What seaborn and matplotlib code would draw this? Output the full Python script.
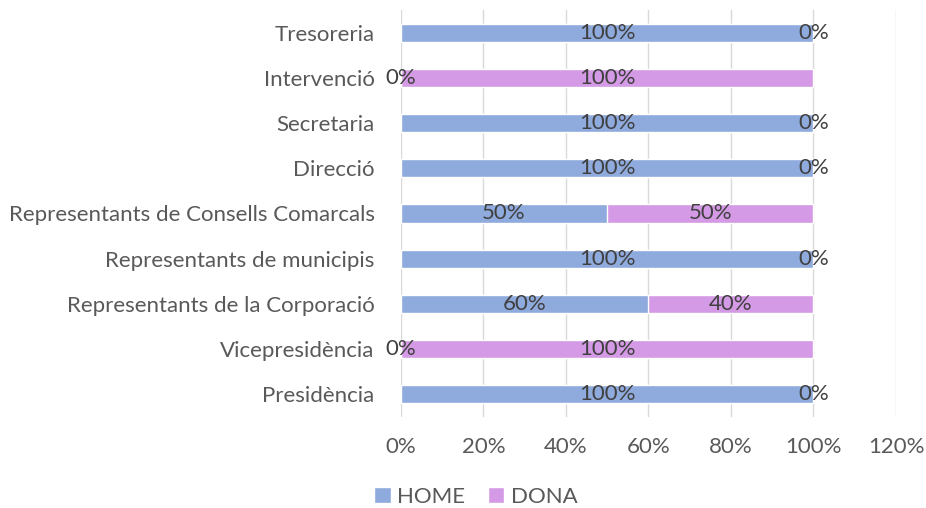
import matplotlib.pyplot as plt
import seaborn as sns
import numpy as np
import pandas as pd

sns.set_style("white")
plt.rcParams['font.family'] = ['Lato', 'DejaVu Sans']

categories = ['Tresoreria', 'Intervenció', 'Secretaria', 'Direcció',
              'Representants de Consells Comarcals', 'Representants de municipis',
              'Representants de la Corporació', 'Vicepresidència', 'Presidència']
home = [100, 0, 100, 100, 50, 100, 60, 0, 100]
dona = [0, 100, 0, 0, 50, 0, 40, 100, 0]

c_home = '#8FAADC'
c_dona = '#D59AE5'
grey = '#595959'
fs = 16

df = pd.DataFrame({'cat': categories, 'HOME': home, 'DONA': dona})
df['total'] = df['HOME'] + df['DONA']

fig = plt.figure(figsize=(9.26, 5.08), dpi=100)
ax = fig.add_axes([0.433, 0.18, 0.5346, 0.7995])

# stacked: total in DONA colour, HOME on top of it
sns.barplot(data=df, y='cat', x='total', color=c_dona, width=0.4, ax=ax,
            saturation=1, label='DONA', zorder=2)
sns.barplot(data=df, y='cat', x='HOME', color=c_home, width=0.4, ax=ax,
            saturation=1, label='HOME', zorder=3)

for i, (h, d) in enumerate(zip(home, dona)):
    ax.text(h / 2, i, f'{h}%', ha='center', va='center', fontsize=fs, color='#404040', zorder=4)
    ax.text(h + d / 2, i, f'{d}%', ha='center', va='center', fontsize=fs, color='#404040', zorder=4)

ax.set_xlim(0, 120)
ax.set_ylim(8.5, -0.5)
ax.set_xticks(np.arange(0, 121, 20))
ax.set_xticklabels([f'{v}%' for v in range(0, 121, 20)])
ax.grid(axis='x', color='#d9d9d9', linewidth=1, zorder=0)
ax.set_axisbelow(True)
ax.set_xlabel('')
ax.set_ylabel('')
for s in ax.spines.values():
    s.set_visible(False)
ax.tick_params(axis='both', length=0, labelsize=fs, colors=grey)
ax.tick_params(axis='x', pad=15)
ax.tick_params(axis='y', pad=19)

handles, labels = ax.get_legend_handles_labels()
order = [labels.index('HOME'), labels.index('DONA')]
ax.legend([handles[k] for k in order], ['HOME', 'DONA'], loc='center',
          bbox_to_anchor=(0.514, 0.022), bbox_transform=fig.transFigure, ncol=2,
          frameon=False, fontsize=fs, handlelength=0.75, handleheight=0.75,
          columnspacing=1.0, handletextpad=0.3, labelcolor=grey)

fig.savefig('out.png', dpi=100)
